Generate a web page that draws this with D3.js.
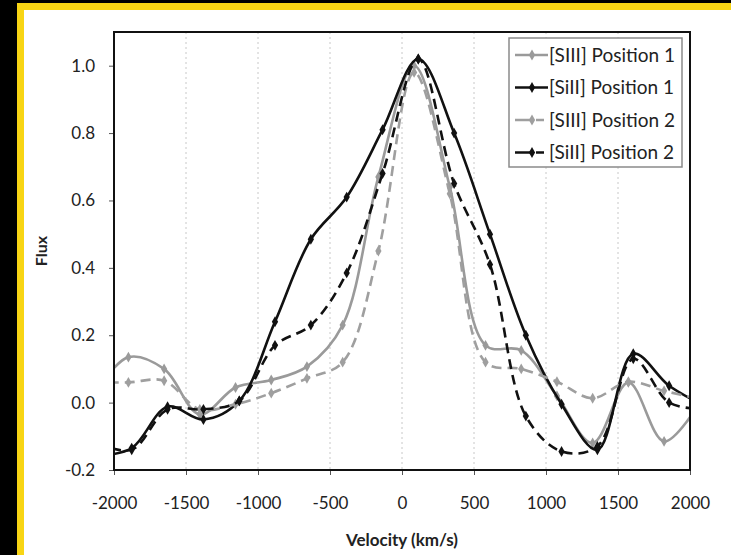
<!DOCTYPE html>
<meta http-equiv="content-type" content="text/html; charset=utf-8">
<style>
body { margin: 0; background: #000; }
text { font-family: Lato, "Open Sans", sans-serif; fill: #222; }
</style>
<body>
<div id="chart"></div>
<script src="https://d3js.org/d3.v7.min.js"></script>
<script>
// velocities of the spectral pixels (km/s)
var velSiII = [-2125, -1877, -1628, -1379, -1130, -882, -633, -384, -135, 113, 362, 611, 860, 1108, 1357, 1606, 1855, 2103];
var velSIII = [-2148, -1900, -1652, -1404, -1156, -908, -660, -412, -164, 84, 332, 580, 828, 1076, 1324, 1572, 1820, 2068];

var siiiPos1 = [0.02, 0.135, 0.10, -0.035, 0.045, 0.067, 0.107, 0.23, 0.67, 1.0, 0.64, 0.17, 0.155, 0.02, -0.12, 0.06, -0.115, 0.0];
var siiPos1  = [-0.16, -0.135, -0.012, -0.05, 0.005, 0.24, 0.485, 0.61, 0.81, 1.02, 0.80, 0.50, 0.20, -0.005, -0.14, 0.145, 0.05, -0.01];
var siiiPos2 = [0.06, 0.06, 0.065, -0.02, -0.005, 0.028, 0.072, 0.12, 0.45, 0.98, 0.62, 0.12, 0.10, 0.062, 0.013, 0.062, 0.035, 0.01];
var siiPos2  = [-0.12, -0.14, -0.02, -0.02, 0.005, 0.17, 0.23, 0.385, 0.68, 1.02, 0.65, 0.41, -0.04, -0.145, -0.13, 0.13, 0.0, -0.02];

var seriesNames = ["[SIII] Position 1", "[SiII] Position 1", "[SIII] Position 2", "[SiII] Position 2"];

var xTicks = [-2000, -1500, -1000, -500, 0, 500, 1000, 1500, 2000];
var yTicks = [-0.2, 0, 0.2, 0.4, 0.6, 0.8, 1.0];
var yTickLabels = ["-0.2", "0.0", "0.2", "0.4", "0.6", "0.8", "1.0"];

var W = 731, H = 555;
var pLeft = 114, pRight = 690, pTop = 32, pBottom = 470;

var svg = d3.select("#chart").append("svg")
    .attr("width", W)
    .attr("height", H)
    .style("display", "block");

// frame: black, yellow, white
svg.append("rect").attr("width", W).attr("height", H).attr("fill", "#000");
svg.append("rect").attr("x", 17).attr("y", 3).attr("width", W - 17).attr("height", H - 3).attr("fill", "#f8d514");
svg.append("rect").attr("x", 24).attr("y", 10).attr("width", W - 24).attr("height", H - 10).attr("fill", "#fff");

var x = d3.scaleLinear().domain([-2000, 2000]).range([pLeft, pRight]);
var y = d3.scaleLinear().domain([-0.2, 1.1]).range([pBottom, pTop]);

// vertical dotted grid
svg.append("g").selectAll("line")
  .data(xTicks.slice(1, -1))
  .enter().append("line")
    .attr("x1", function(d) { return x(d); })
    .attr("x2", function(d) { return x(d); })
    .attr("y1", pTop)
    .attr("y2", pBottom)
    .attr("stroke", "#c8c8c8")
    .attr("stroke-width", 1)
    .attr("stroke-dasharray", "2,3");

var gx = svg.append("g")
    .attr("transform", "translate(0," + pBottom + ")")
    .call(d3.axisBottom(x).tickValues(xTicks).tickSize(5).tickPadding(22).tickFormat(function(d) { return d; }));
gx.select(".domain").remove();
gx.selectAll("line").attr("stroke", "#555");
gx.selectAll("text").attr("font-size", "17px").attr("fill", "#222");

var gy = svg.append("g")
    .attr("transform", "translate(" + pLeft + ",0)")
    .call(d3.axisLeft(y).tickValues(yTicks).tickSize(5).tickPadding(14).tickFormat(function(d, i) { return yTickLabels[i]; }));
gy.select(".domain").remove();
gy.selectAll("line").attr("stroke", "#555");
gy.selectAll("text").attr("font-size", "17px").attr("fill", "#222");

svg.append("defs").append("clipPath").attr("id", "clip")
  .append("rect").attr("x", pLeft).attr("y", pTop).attr("width", pRight - pLeft).attr("height", pBottom - pTop);

var series = [
  { name: seriesNames[0], vel: velSIII, val: siiiPos1, color: "#9a9a9a", dash: null },
  { name: seriesNames[1], vel: velSiII, val: siiPos1,  color: "#111",    dash: null },
  { name: seriesNames[2], vel: velSIII, val: siiiPos2, color: "#9f9f9f", dash: "10,6" },
  { name: seriesNames[3], vel: velSiII, val: siiPos2,  color: "#111",    dash: "10,6" }
];

var line = d3.line()
    .x(function(d) { return x(d[0]); })
    .y(function(d) { return y(d[1]); })
    .curve(d3.curveCatmullRom.alpha(0.5));

var diamond = d3.symbol().type(d3.symbolDiamond).size(34);

var plot = svg.append("g").attr("clip-path", "url(#clip)");

series.forEach(function(s) {
  var pts = s.vel.map(function(v, i) { return [v, s.val[i]]; });
  plot.append("path")
    .datum(pts)
    .attr("d", line)
    .attr("fill", "none")
    .attr("stroke", s.color)
    .attr("stroke-width", 2.6)
    .attr("stroke-dasharray", s.dash);
  plot.selectAll(null)
    .data(pts)
    .enter().append("path")
    .attr("d", diamond)
    .attr("transform", function(d) { return "translate(" + x(d[0]) + "," + y(d[1]) + ")"; })
    .attr("fill", s.color);
});

// plot frame
svg.append("rect")
    .attr("x", pLeft).attr("y", pTop)
    .attr("width", pRight - pLeft).attr("height", pBottom - pTop)
    .attr("fill", "none")
    .attr("stroke", "#111")
    .attr("stroke-width", 2);

// legend
var lg = svg.append("g").attr("transform", "translate(509,38)");
lg.append("rect")
    .attr("width", 173).attr("height", 129)
    .attr("fill", "#fff")
    .attr("stroke", "#8a8a8a")
    .attr("stroke-width", 1.5);
var items = lg.selectAll("g.item")
  .data(series)
  .enter().append("g")
    .attr("class", "item")
    .attr("transform", function(d, i) { return "translate(0," + (17 + i * 32.5) + ")"; });
items.append("line")
    .attr("x1", 6).attr("x2", 39)
    .attr("stroke", function(d) { return d.color; })
    .attr("stroke-width", 2.6)
    .attr("stroke-dasharray", function(d) { return d.dash ? "17,4,8" : null; });
items.append("path")
    .attr("d", diamond)
    .attr("transform", "translate(23,0)")
    .attr("fill", function(d) { return d.color; });
items.append("text")
    .attr("x", 40)
    .attr("dy", "0.35em")
    .attr("font-size", "19px")
    .text(function(d) { return d.name; });

// axis titles
svg.append("text")
    .attr("x", (pLeft + pRight) / 2)
    .attr("y", 546)
    .attr("text-anchor", "middle")
    .attr("font-size", "17px")
    .attr("font-weight", "bold")
    .text("Velocity (km/s)");

svg.append("text")
    .attr("transform", "translate(47," + (pBottom + pTop) / 2 + ") rotate(-90)")
    .attr("text-anchor", "middle")
    .attr("font-size", "16px")
    .attr("font-weight", "bold")
    .text("Flux");
</script>
</body>
